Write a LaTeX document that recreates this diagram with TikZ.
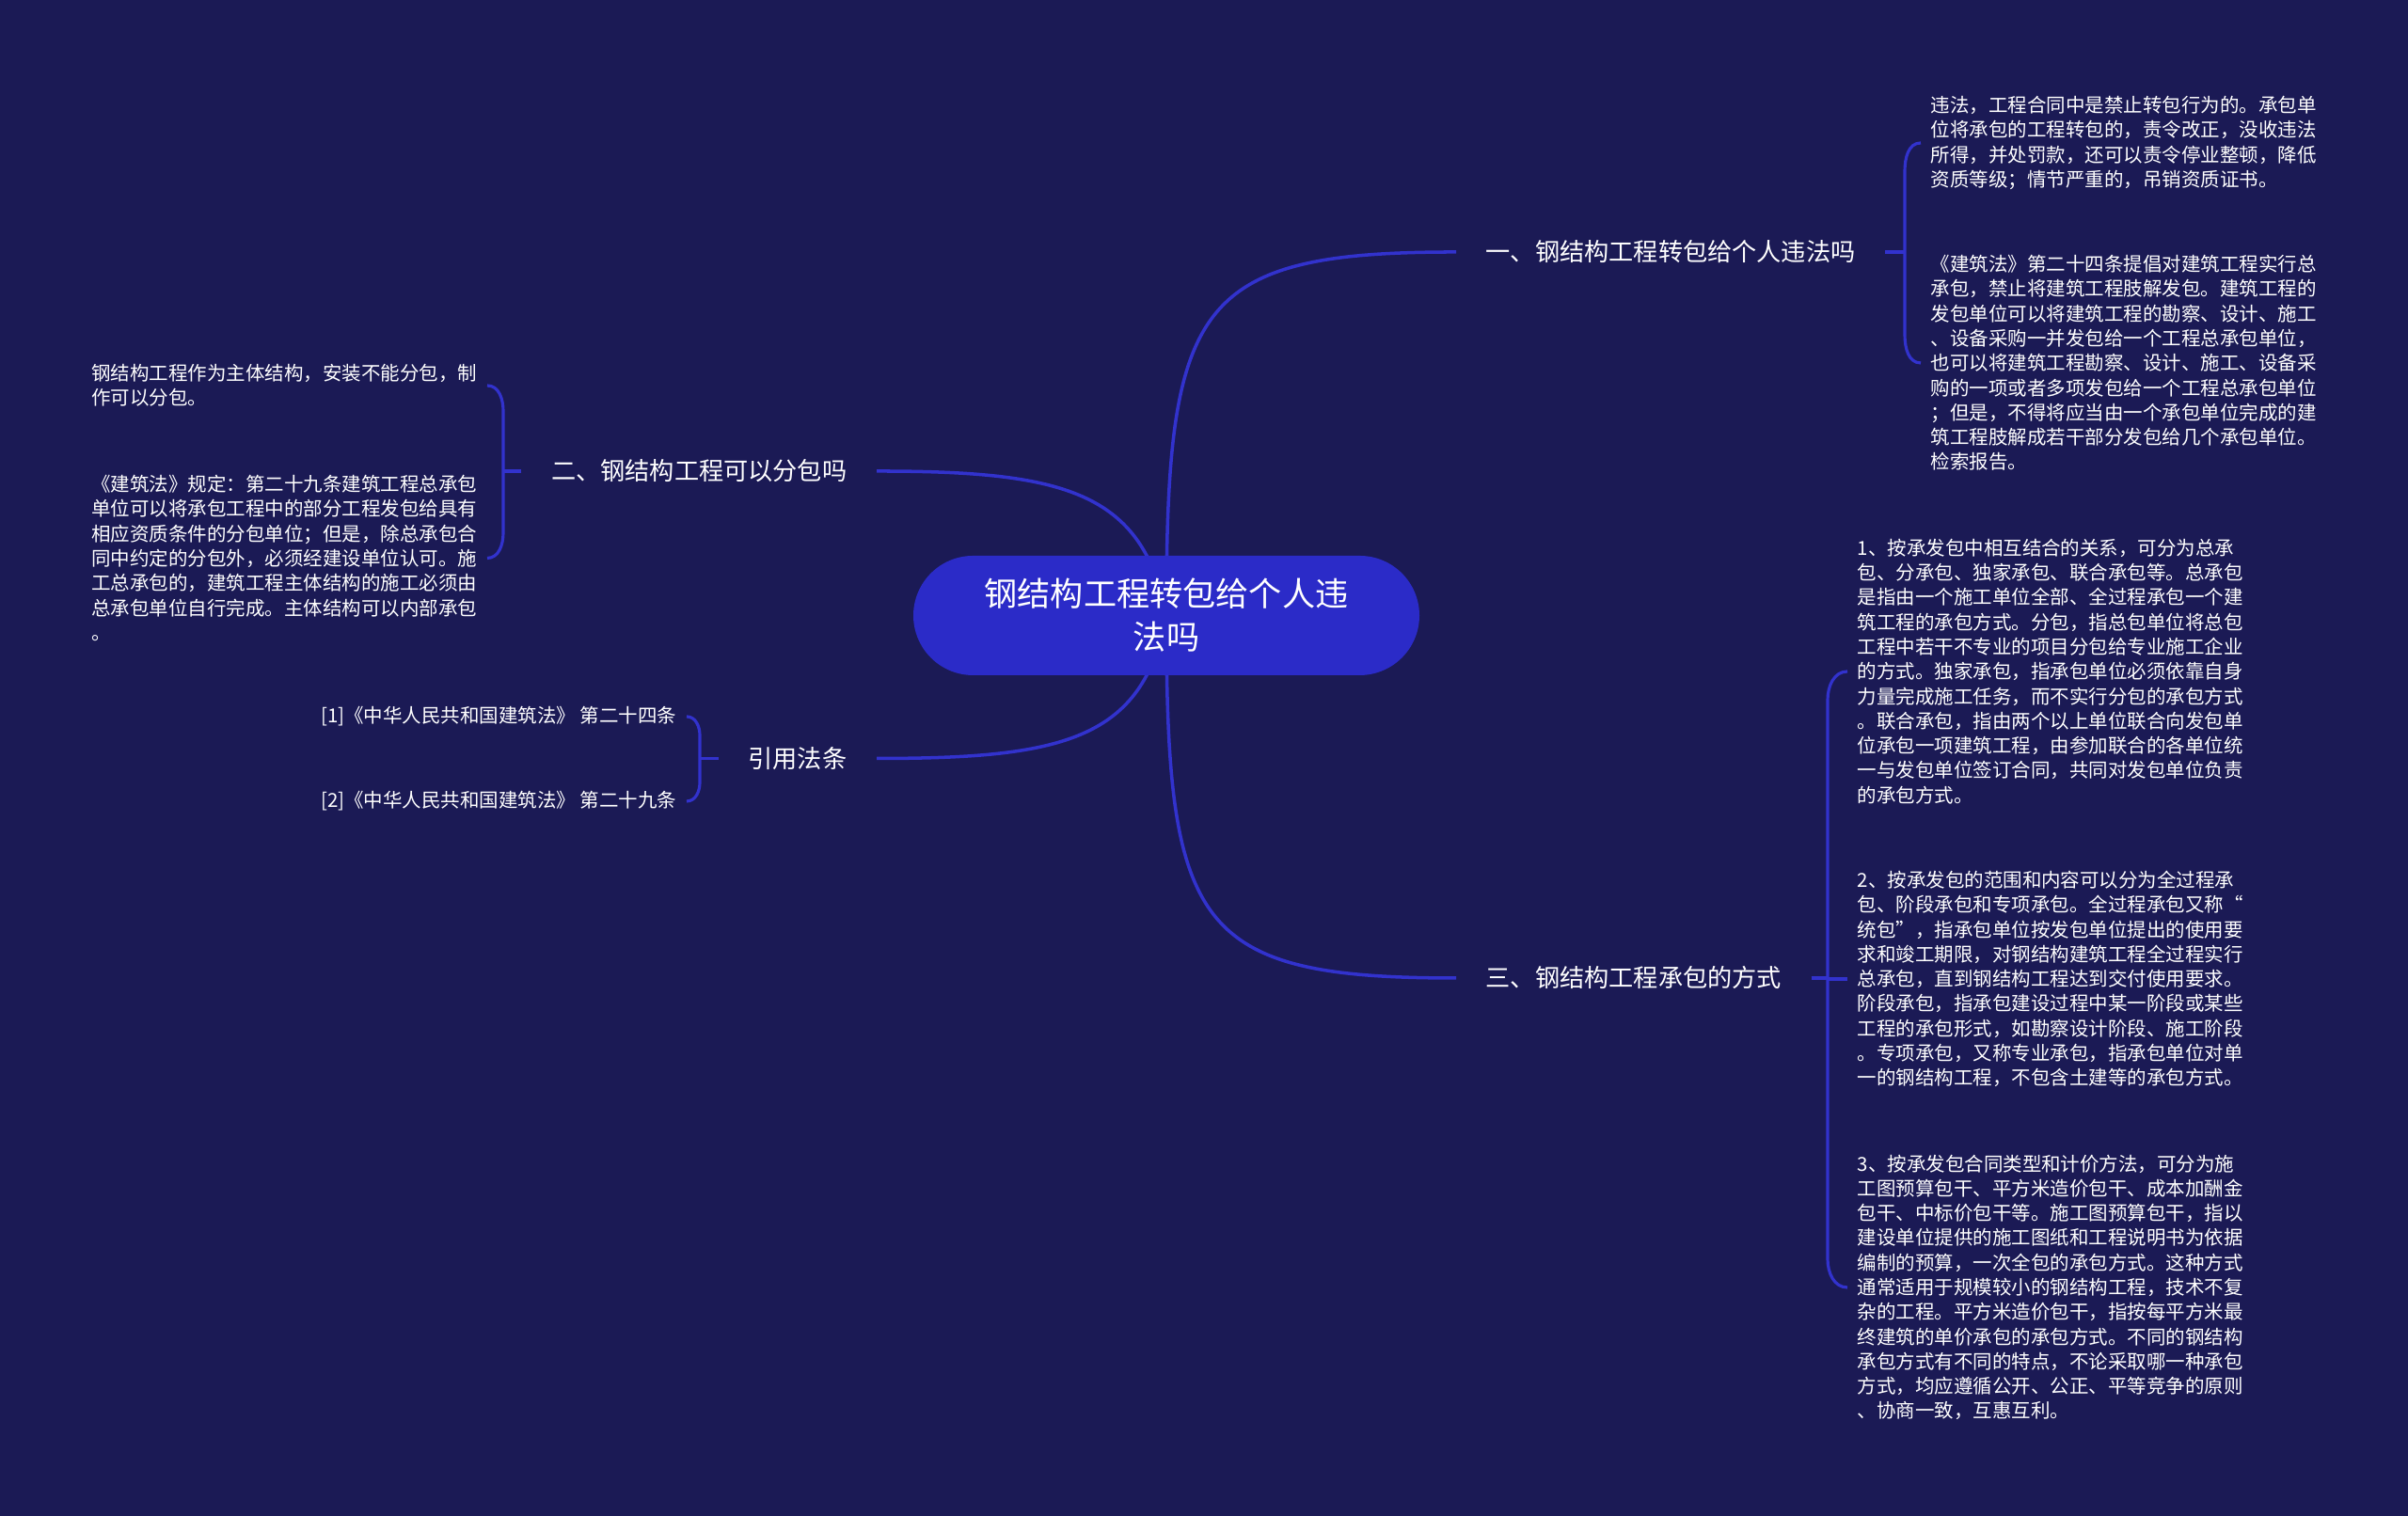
\documentclass[tikz,border=0pt]{standalone}
\usepackage{fontspec}
\usepackage{xcolor}
\usepackage{tikz}
\usetikzlibrary{positioning, backgrounds}
\newfontfamily\cjk{Noto Sans CJK SC}
\definecolor{bgnavy}{RGB}{27,26,85}
\definecolor{rootblue}{RGB}{43,43,200}
\definecolor{linkblue}{RGB}{50,50,205}

\begin{document}
\begin{tikzpicture}[
    root/.style={rounded corners=0.635cm, fill=rootblue, text=white, minimum width=5.38cm, minimum height=1.27cm, align=center, font=\cjk\fontsize{10}{13.1}\selectfont},
    topic/.style={text=white, inner xsep=0.31cm, font=\cjk\fontsize{7.45}{9}\selectfont},
    leaf/.style={text=white, inner xsep=0.1cm, inner ysep=0pt, align=left, font=\cjk\fontsize{5.83}{7.48}\selectfont},
    link/.style={linkblue, line width=1pt},
    brace/.style={linkblue, line width=0.9pt}]
      \useasboundingbox (0,0) rectangle (25.6,16.12);

      % Central topic
      \node[root] (root) at (12.40, 9.575) {钢结构工程转包给个人违\\法吗};

      % Branches
      \node[topic, anchor=west] (t1) at (15.48, 13.44) {一、钢结构工程转包给个人违法吗};
      \node[topic, anchor=east] (t2) at (9.32, 11.11) {二、钢结构工程可以分包吗};
      \node[topic, anchor=west] (t3) at (15.48, 5.72) {三、钢结构工程承包的方式};
      \node[topic, anchor=east] (t4) at (9.32, 8.055) {引用法条};

      % Leaves of branch one
      \node[leaf, anchor=west] (l1a) at (20.42, 14.60) {违法，工程合同中是禁止转包行为的。承包单\\位将承包的工程转包的，责令改正，没收违法\\所得，并处罚款，还可以责令停业整顿，降低\\资质等级；情节严重的，吊销资质证书。};
      \node[leaf, anchor=west] (l1b) at (20.42, 12.26) {《建筑法》第二十四条提倡对建筑工程实行总\\承包，禁止将建筑工程肢解发包。建筑工程的\\发包单位可以将建筑工程的勘察、设计、施工\\、设备采购一并发包给一个工程总承包单位，\\也可以将建筑工程勘察、设计、施工、设备采\\购的一项或者多项发包给一个工程总承包单位\\；但是，不得将应当由一个承包单位完成的建\\筑工程肢解成若干部分发包给几个承包单位。\\检索报告。};

      % Leaves of branch two
      \node[leaf, anchor=east] (l2a) at (5.18, 12.02) {钢结构工程作为主体结构，安装不能分包，制\\作可以分包。};
      \node[leaf, anchor=east] (l2b) at (5.18, 10.185) {《建筑法》规定：第二十九条建筑工程总承包\\单位可以将承包工程中的部分工程发包给具有\\相应资质条件的分包单位；但是，除总承包合\\同中约定的分包外，必须经建设单位认可。施\\工总承包的，建筑工程主体结构的施工必须由\\总承包单位自行完成。主体结构可以内部承包\\。};

      % Leaves of branch three
      \node[leaf, anchor=west] (l3a) at (19.64, 8.98) {1、按承发包中相互结合的关系，可分为总承\\包、分承包、独家承包、联合承包等。总承包\\是指由一个施工单位全部、全过程承包一个建\\筑工程的承包方式。分包，指总包单位将总包\\工程中若干不专业的项目分包给专业施工企业\\的方式。独家承包，指承包单位必须依靠自身\\力量完成施工任务，而不实行分包的承包方式\\。联合承包，指由两个以上单位联合向发包单\\位承包一项建筑工程，由参加联合的各单位统\\一与发包单位签订合同，共同对发包单位负责\\的承包方式。};
      \node[leaf, anchor=west] (l3b) at (19.64, 5.71) {2、按承发包的范围和内容可以分为全过程承\\包、阶段承包和专项承包。全过程承包又称“\\统包”，指承包单位按发包单位提出的使用要\\求和竣工期限，对钢结构建筑工程全过程实行\\总承包，直到钢结构工程达到交付使用要求。\\阶段承包，指承包建设过程中某一阶段或某些\\工程的承包形式，如勘察设计阶段、施工阶段\\。专项承包，又称专业承包，指承包单位对单\\一的钢结构工程，不包含土建等的承包方式。};
      \node[leaf, anchor=west] (l3c) at (19.64, 2.43) {3、按承发包合同类型和计价方法，可分为施\\工图预算包干、平方米造价包干、成本加酬金\\包干、中标价包干等。施工图预算包干，指以\\建设单位提供的施工图纸和工程说明书为依据\\编制的预算，一次全包的承包方式。这种方式\\通常适用于规模较小的钢结构工程，技术不复\\杂的工程。平方米造价包干，指按每平方米最\\终建筑的单价承包的承包方式。不同的钢结构\\承包方式有不同的特点，不论采取哪一种承包\\方式，均应遵循公开、公正、平等竞争的原则\\、协商一致，互惠互利。};

      % Cited articles
      \node[leaf, anchor=east] (l4a) at (7.30, 8.50) {[1]《中华人民共和国建筑法》 第二十四条};
      \node[leaf, anchor=east] (l4b) at (7.30, 7.60) {[2]《中华人民共和国建筑法》 第二十九条};

      % Background and curved links from the centre
      \begin{scope}[on background layer]
        \fill[bgnavy] (0,0) rectangle (25.6,16.12);
        \draw[link] (root.center) .. controls (12.40,12.9) and (12.70,13.44) .. (t1.west);
        \draw[link] (root.center) .. controls (12.15,10.9) and (11.30,11.11) .. (t2.east);
        \draw[link] (root.center) .. controls (12.40,6.25) and (12.70,5.72) .. (t3.west);
        \draw[link] (root.center) .. controls (12.15,8.25) and (11.30,8.055) .. (t4.east);
      \end{scope}

      % Braces
      \coordinate (b1) at (20.25, 13.44);
      \coordinate (b1top) at (20.25, 14.30);
      \coordinate (b1bot) at (20.25, 12.56);
      \draw[brace] (t1.east) -- (b1);
      \draw[brace] (l1a.west) to[out=180, in=90] (b1top) -- (b1bot) to[out=-90, in=180] (l1b.west);

      \coordinate (b2) at (5.35, 11.11);
      \coordinate (b2top) at (5.35, 11.75);
      \coordinate (b2bot) at (5.35, 10.455);
      \draw[brace] (t2.west) -- (b2);
      \draw[brace] (l2a.east) to[out=0, in=90] (b2top) -- (b2bot) to[out=-90, in=0] (l2b.east);

      \coordinate (b3) at (19.43, 5.72);
      \coordinate (b3top) at (19.43, 8.68);
      \coordinate (b3bot) at (19.43, 2.73);
      \draw[brace] (t3.east) -- (b3);
      \draw[brace] (l3a.west) to[out=180, in=90] (b3top) -- (b3bot) to[out=-90, in=180] (l3c.west);
      \draw[brace] (l3b.west -| b3) -- (l3b.west);

      \coordinate (b4) at (7.44, 8.055);
      \coordinate (b4top) at (7.44, 8.30);
      \coordinate (b4bot) at (7.44, 7.80);
      \draw[brace] (t4.west) -- (b4);
      \draw[brace] (l4a.east) to[out=0, in=90] (b4top) -- (b4bot) to[out=-90, in=0] (l4b.east);
    \end{tikzpicture}
\end{document}
